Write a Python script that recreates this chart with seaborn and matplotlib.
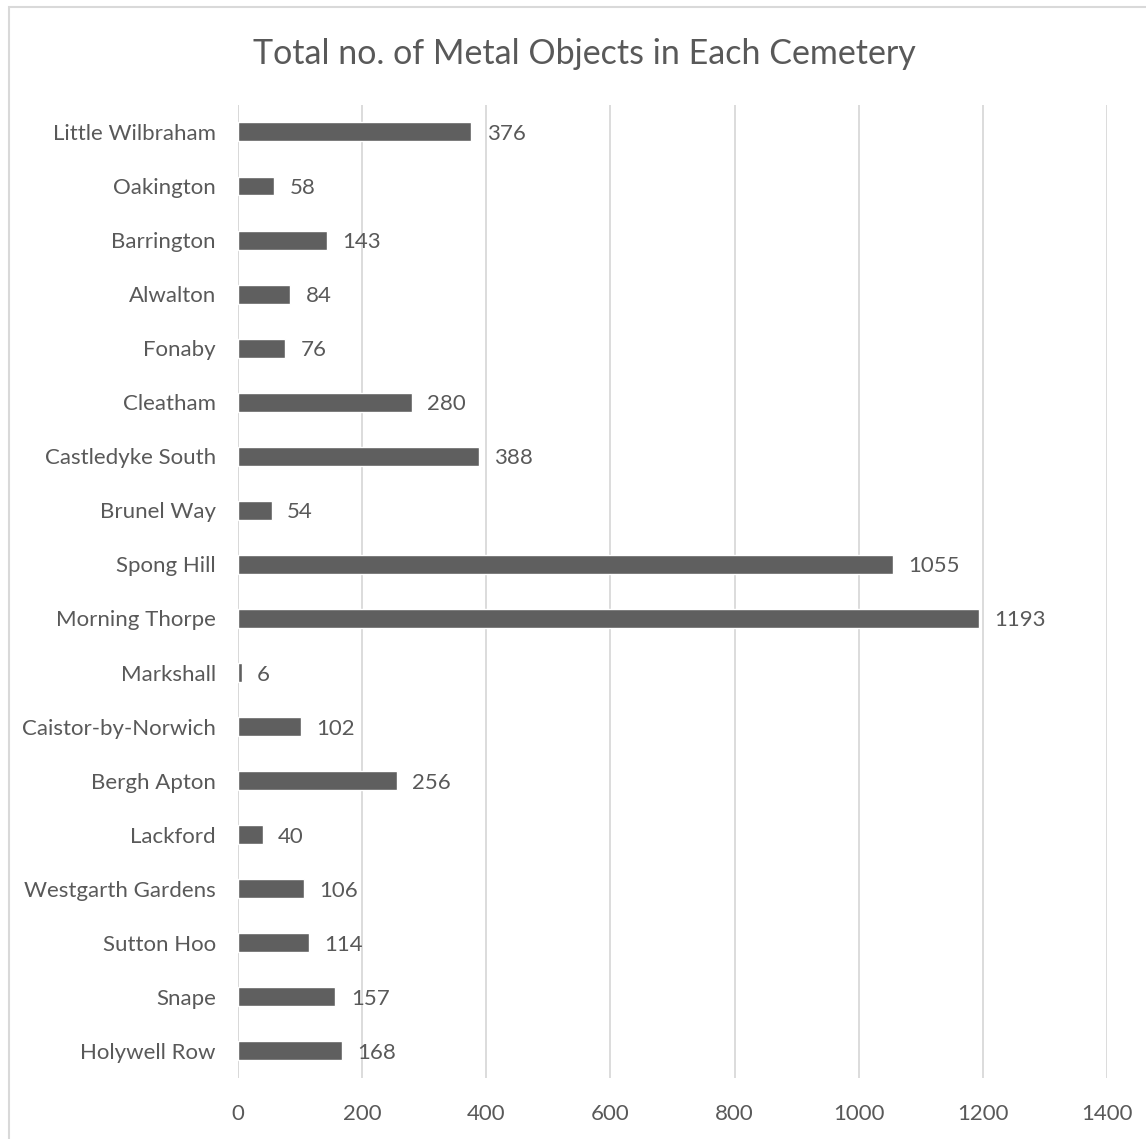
import matplotlib
matplotlib.use("Agg")
import pandas as pd
import seaborn as sns
import matplotlib.pyplot as plt
from matplotlib.patches import Rectangle

# Cemetery names and metal object counts, top to bottom as in the chart
cemeteries = ["Little Wilbraham", "Oakington", "Barrington", "Alwalton", "Fonaby",
              "Cleatham", "Castledyke South", "Brunel Way", "Spong Hill",
              "Morning Thorpe", "Markshall", "Caistor-by-Norwich", "Bergh Apton",
              "Lackford", "Westgarth Gardens", "Sutton Hoo", "Snape", "Holywell Row"]
counts = [376, 58, 143, 84, 76, 280, 388, 54, 1055, 1193, 6, 102, 256, 40, 106, 114, 157, 168]
x_ticks = [0, 200, 400, 600, 800, 1000, 1200, 1400]

df = pd.DataFrame({"cemetery": cemeteries, "count": counts})

sns.set_style("white")
plt.rcParams["font.family"] = ["Lato", "DejaVu Sans"]

text_col = "#595959"
grid_col = "#d9d9d9"

fig = plt.figure(figsize=(11.46, 11.39), dpi=100)
ax = fig.add_axes([0.2077, 0.0536, 0.7583, 0.8543])

sns.barplot(data=df, x="count", y="cemetery", color="#5f5f5f", width=0.35,
            saturation=1, ax=ax, zorder=3)

ax.set_xlim(0, 1400)
ax.set_ylim(17.5, -0.5)
ax.set_xticks(x_ticks)
ax.xaxis.grid(True, color=grid_col, linewidth=1.3, zorder=0)
ax.yaxis.grid(False)
for s in ax.spines.values():
    s.set_visible(False)
ax.axvline(0, color=grid_col, linewidth=1.3, zorder=1)

ax.tick_params(axis="both", length=0, labelsize=16, colors=text_col)
ax.tick_params(axis="y", pad=16)
ax.tick_params(axis="x", pad=19)
ax.set_xlabel("")
ax.set_ylabel("")

labels = ax.bar_label(ax.containers[0], padding=11, fontsize=16, color=text_col)
for t in labels:
    t.set_va("center_baseline")

fig.text(0.51, 0.953, "Total no. of Metal Objects in Each Cemetery",
         ha="center", va="center", fontsize=24.5, color=text_col)

# light chart-area border
fig.patches.append(Rectangle((0.008, -0.01), 1.2, 1.004, transform=fig.transFigure,
                             fill=False, edgecolor=grid_col, linewidth=1.5))

fig.savefig("out.png", dpi=100)
